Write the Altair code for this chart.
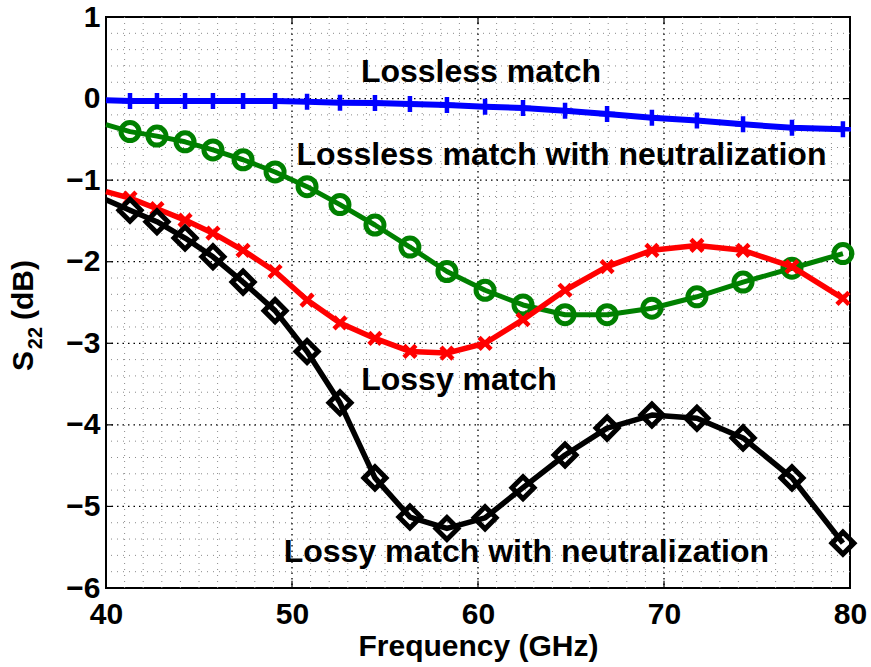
import altair as alt
import pandas as pd

# ---- data ----
freq = [40.0, 41.29, 42.74, 44.25, 45.75, 47.37, 49.09, 50.81, 52.58, 54.46, 56.34,
        58.33, 60.38, 62.42, 64.68, 66.94, 69.35, 71.77, 74.25, 76.88, 79.62]
lossless = [-0.02, -0.03, -0.03, -0.03, -0.03, -0.03, -0.03, -0.04, -0.05, -0.055, -0.066,
            -0.08, -0.10, -0.115, -0.15, -0.19, -0.235, -0.27, -0.316, -0.357, -0.375]
lossless_neut = [-0.32, -0.405, -0.46, -0.53, -0.63, -0.75, -0.90, -1.08, -1.30, -1.55, -1.82,
                 -2.12, -2.35, -2.53, -2.65, -2.65, -2.57, -2.43, -2.25, -2.08, -1.90]
lossy = [-1.14, -1.22, -1.35, -1.49, -1.65, -1.86, -2.12, -2.47, -2.75, -2.94, -3.10,
         -3.12, -3.00, -2.71, -2.35, -2.06, -1.86, -1.80, -1.86, -2.06, -2.45]
lossy_neut = [-1.24, -1.37, -1.51, -1.71, -1.94, -2.25, -2.60, -3.10, -3.73, -4.65, -5.13,
              -5.27, -5.14, -4.77, -4.37, -4.04, -3.88, -3.92, -4.16, -4.65, -5.45]

x_ticks = [40, 50, 60, 70, 80]
y_ticks = [-6, -5, -4, -3, -2, -1, 0, 1]
x_minor = [v for v in range(41, 80) if v % 10 != 0]
y_minor = [round(-6 + 0.2 * i, 1) for i in range(1, 35) if i % 5 != 0]

ann_text = ["Lossless match", "Lossless match with neutralization",
            "Lossy match", "Lossy match with neutralization"]
ann_x = [60.16, 64.49, 58.98, 62.6]
ann_y = [0.207, -0.814, -3.573, -5.678]

FONT = "Liberation Sans"

xs = alt.Scale(domain=[40, 80], nice=False, zero=False)
ys = alt.Scale(domain=[-6, 1], nice=False, zero=False)
x_axis = alt.Axis(values=x_ticks, title="Frequency (GHz)", grid=False, ticks=False, tickSize=0,
                  domain=False, labelFont=FONT, labelFontSize=30, labelFontWeight="bold",
                  labelColor="black", labelPadding=11, labelOverlap=False, labelFlush=False,
                  titleFont=FONT, titleFontSize=30, titleFontWeight="bold", titleColor="black",
                  titlePadding=2, format="d")
y_axis = alt.Axis(values=y_ticks, title="", grid=False, ticks=False, tickSize=0, domain=False,
                  labelFont=FONT, labelFontSize=30, labelFontWeight="bold", labelColor="black",
                  labelPadding=6, labelOverlap=False, labelFlush=False, format="d")


def X(field):
    return alt.X(field, type="quantitative", scale=xs, axis=x_axis)


def Y(field):
    return alt.Y(field, type="quantitative", scale=ys, axis=y_axis)


layers = []

# minor grid
gx = alt.Chart(pd.DataFrame({"gx": x_minor})).mark_rule(
    color="#8a8a8a", strokeWidth=1, strokeDash=[1, 5]).encode(x=X("gx"))
gy = alt.Chart(pd.DataFrame({"gy": y_minor})).mark_rule(
    color="#8a8a8a", strokeWidth=1, strokeDash=[1, 5]).encode(y=Y("gy"))
# major grid
Gx = alt.Chart(pd.DataFrame({"Gx": x_ticks[1:-1]})).mark_rule(
    color="black", strokeWidth=1.3, strokeDash=[1.5, 4]).encode(x=X("Gx"))
Gy = alt.Chart(pd.DataFrame({"Gy": y_ticks[1:-1]})).mark_rule(
    color="black", strokeWidth=1.3, strokeDash=[1.5, 4]).encode(y=Y("Gy"))
layers += [gx, gy, Gx, Gy]

# inside ticks
tick_df_x = pd.DataFrame({"tx": x_ticks[1:-1] * 2,
                          "ty1": [-6] * 3 + [1] * 3,
                          "ty2": [-5.91] * 3 + [0.91] * 3})
tick_df_y = pd.DataFrame({"uy": y_ticks[1:-1] * 2,
                          "ux1": [40] * 6 + [80] * 6,
                          "ux2": [40.38] * 6 + [79.62] * 6})
tx = alt.Chart(tick_df_x).mark_rule(color="black", strokeWidth=1.2).encode(
    x=X("tx"), y=Y("ty1"), y2="ty2")
ty = alt.Chart(tick_df_y).mark_rule(color="black", strokeWidth=1.2).encode(
    x=X("ux1"), x2="ux2", y=Y("uy"))
layers += [tx, ty]

series = [
    ("lossless", lossless, "#0000ff", 6, "M-1,0L1,0M0,-1L0,1", 256, 4.5),
    ("lossless_neut", lossless_neut, "#008000", 5, "circle", 324, 5),
    ("lossy", lossy, "#ff0000", 5.5, "M-1,-1L1,1M-1,1L1,-1", 144, 4.5),
    ("lossy_neut", lossy_neut, "#000000", 5.5, "diamond", 484, 5),
]
for name, vals, col, lw, shape, size, sw in series:
    df = pd.DataFrame({"freq": freq, name: vals})
    base = alt.Chart(df)
    line = base.mark_line(color=col, strokeWidth=lw, strokeJoin="round").encode(
        x=X("freq"), y=Y(name))
    pts = base.transform_filter("datum.freq > 40.5").mark_point(
        shape=shape, filled=False, color=col, size=size, strokeWidth=sw, opacity=1).encode(
        x=X("freq"), y=Y(name))
    layers += [line, pts]

# annotations
ann = alt.Chart(pd.DataFrame({"ax": ann_x, "ay": ann_y, "txt": ann_text})).mark_text(
    font=FONT, fontSize=32, fontWeight="bold", color="black", align="center",
    baseline="alphabetic").encode(x=X("ax"), y=Y("ay"), text="txt:N")
layers.append(ann)

# y-axis title with subscript
ytitle_parts = [("S", -73, 344, 30), ("22", -64, 321, 20), ("(dB)", -73, 273, 30)]
for txt, px, py, fs in ytitle_parts:
    t = alt.Chart(pd.DataFrame({"lab": [txt]})).mark_text(
        font=FONT, fontSize=fs, fontWeight="bold", color="black", align="center",
        baseline="alphabetic", angle=270).encode(
        x=alt.value(px), y=alt.value(py), text="lab:N")
    layers.append(t)

chart = alt.layer(*layers).properties(
    width=744, height=571,
    padding={"left": 106, "top": 17, "right": 21, "bottom": 79},
    autosize=alt.AutoSizeParams(type="none"),
    background="white",
).configure_view(stroke="black", strokeWidth=2)

chart.save("out.html", embed_options={"renderer": "svg", "actions": False})
